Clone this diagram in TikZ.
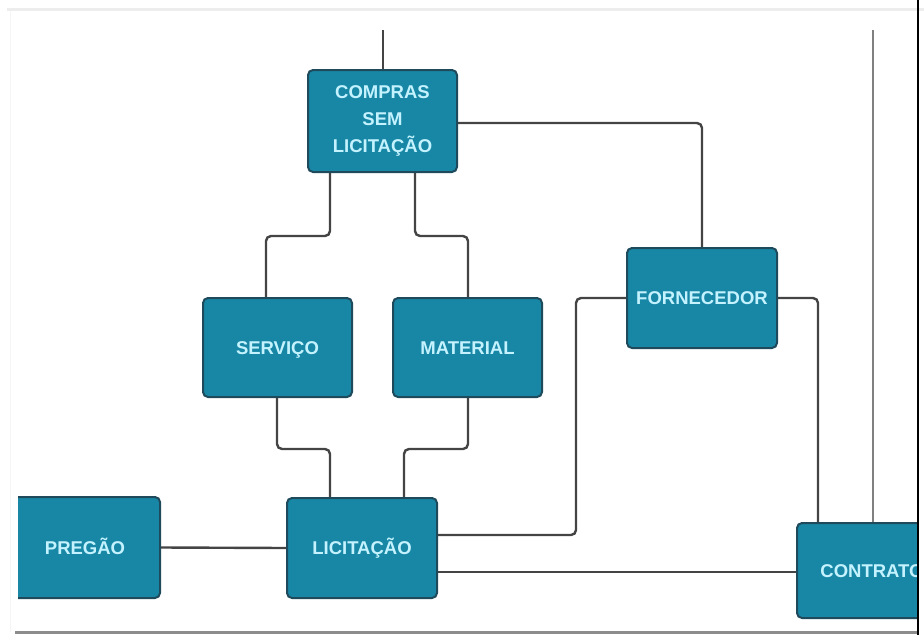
\documentclass[tikz,border=0pt]{standalone}
\usepackage{fontspec}
\setmainfont{Liberation Sans}
\usetikzlibrary{backgrounds}
\definecolor{boxfill}{RGB}{24,135,166}
\definecolor{boxedge}{RGB}{30,74,92}
\definecolor{boxtext}{RGB}{196,243,255}
\definecolor{linecol}{RGB}{68,68,68}
\begin{document}
\begin{tikzpicture}[x=1pt,y=-1pt,
  box/.style={draw=boxedge, line width=2pt, fill=boxfill, rounded corners=5pt,
    text=boxtext, font=\bfseries\fontsize{18.5}{27}\selectfont, align=center,
    minimum width=149pt, minimum height=100pt, inner sep=0pt},
  oneline/.style={text height=13.2pt, text depth=0pt},
  conn/.style={draw=linecol, line width=2.4pt, rounded corners=5pt},
]
\useasboundingbox (0,0) rectangle (924,635);
% page frame
\fill[black!7] (7,8) rectangle (924,11);
\draw[black!4, line width=1pt] (10,11) -- (10,632);
\draw[black!45, line width=3pt] (15,632) -- (918,632);

% nodes
\node[box, minimum height=102pt] (compras) at (382.5,121) {COMPRAS\\SEM\\LICITAÇÃO};
\node[box, oneline, minimum height=99pt] (servico) at (277.5,347.5) {SERVIÇO};
\node[box, oneline, minimum height=99pt] (material) at (467.5,347.5) {MATERIAL};
\node[box, oneline, minimum width=150pt] (forn) at (702,298) {FORNECEDOR};
\node[box, oneline, minimum width=150pt] (licit) at (362,548) {LICITAÇÃO};
\begin{scope}
  \clip (18,480) rectangle (200,620);
  \node[box, oneline, minimum width=150pt, minimum height=101pt] (pregao) at (85,547.5) {PREGÃO};
\end{scope}
\begin{scope}
  \clip (780,500) rectangle (917,630);
  \node[box, oneline, minimum width=150pt, minimum height=95pt] (contrato) at (872,570.5) {CONTRATO};
\end{scope}

\coordinate (topend) at (383,30);
\coordinate (vtop) at (873,30);

\begin{scope}[on background layer]
  \draw[conn] (compras.north -| topend) -- (topend);
  \draw[conn] ([xshift=-52.5pt]compras.south) -- ++(0,63) -| ([xshift=-11.5pt]servico.north);
  \draw[conn] ([xshift=32.5pt]compras.south) -- ++(0,63) -| ([xshift=0.5pt]material.north);
  \draw[conn] ([xshift=-0.5pt]servico.south) -- ++(0,51) -| ([xshift=-32pt]licit.north);
  \draw[conn] ([xshift=0.5pt]material.south) -- ++(0,51) -| ([xshift=42pt]licit.north);
  \draw[conn] ([yshift=-2pt]compras.east) -| (forn.north);
  \draw[conn] ([yshift=13pt]licit.east) -- ++(138,0) |- (forn.west);
  \draw[conn] ([yshift=-24pt]licit.east) -- ([yshift=-24pt]licit.east -| contrato.west);
  \draw[conn] (pregao.east) -- (licit.west);
  \draw[conn] (forn.east) -| ([xshift=-54pt]contrato.north);
  \draw[draw=black!50, line width=2.4pt] (vtop) -- (vtop |- contrato.north);
\end{scope}

\draw[black, line width=2pt] (918,0) -- (918,635);
\end{tikzpicture}
\end{document}
